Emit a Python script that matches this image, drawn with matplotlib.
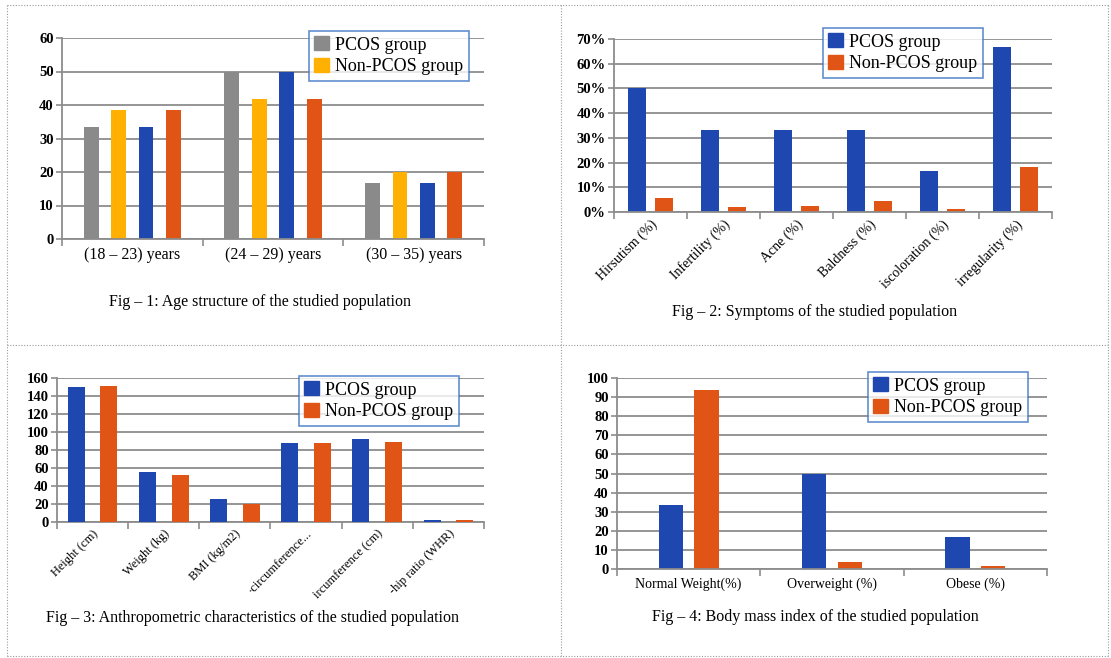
import matplotlib
matplotlib.use("Agg")
import matplotlib.pyplot as plt
import numpy as np
from matplotlib.lines import Line2D
from matplotlib.patches import Patch
from matplotlib.ticker import PercentFormatter, MultipleLocator, FixedLocator

plt.rcParams['font.family'] = ['Liberation Serif', 'DejaVu Serif']

W, H = 1111, 658

# ---------------- data ----------------
age_categories = ["(18 – 23) years", "(24 – 29) years", "(30 – 35) years"]
age_pcos_gray = [33.3, 50.0, 16.7]
age_non_yellow = [38.5, 41.7, 20.0]
age_pcos_blue = [33.3, 50.0, 16.7]
age_non_orange = [38.5, 41.7, 20.0]

symptom_labels = ["Hirsutism (%)", "Infertility (%)", "Acne (%)", "Baldness (%)",
                  "iscoloration (%)", "irregularity (%)"]
symptom_pcos = [0.50, 0.333, 0.333, 0.333, 0.167, 0.667]
symptom_non = [0.058, 0.021, 0.026, 0.045, 0.012, 0.181]

anthro_labels = ["Height (cm)", "Weight (kg)", "BMI (kg/m2)", "·circumference...",
                 "ircumference (cm)", "-hip ratio (WHR)"]
anthro_pcos = [150.0, 55.3, 25.3, 87.5, 92.7, 2.0]
anthro_non = [151.0, 52.5, 19.5, 87.5, 89.0, 2.0]

bmi_labels = ["Normal Weight(%)", "Overweight (%)", "Obese (%)"]
bmi_pcos = [33.3, 50.0, 16.7]
bmi_non = [93.5, 3.8, 1.6]

legend_labels = ["PCOS group", "Non-PCOS group"]
captions = ["Fig – 1: Age structure of the studied population",
            "Fig – 2: Symptoms of the studied population",
            "Fig – 3: Anthropometric characteristics of the studied population",
            "Fig – 4: Body mass index of the studied population"]

GRAY = "#8a8a8a"
YELLOW = "#ffb000"
BLUE = "#1f47b0"
ORANGE = "#e05516"
GRID = "#8c8c8c"
LEGEND_EDGE = "#3a72c4"

fig = plt.figure(figsize=(W / 100, H / 100), dpi=100)


def fx(x):
    return x / W


def fy(y):
    return 1 - y / H


def make_ax(l, t, r, b):
    return fig.add_axes([fx(l), fy(b), (r - l) / W, (b - t) / H])


def style_ax(ax, n, ymax, step, tick_fs):
    ax.set_xlim(-0.5, n - 0.5)
    ax.set_ylim(0, ymax)
    ax.yaxis.set_major_locator(MultipleLocator(step))
    ax.set_axisbelow(True)
    ax.grid(axis='y', color=GRID, linewidth=1.3)
    for s in ['top', 'right']:
        ax.spines[s].set_visible(False)
    for s in ['left', 'bottom']:
        ax.spines[s].set_color(GRID)
        ax.spines[s].set_linewidth(1.3)
    ax.set_xticks(np.arange(n))
    ax.xaxis.set_minor_locator(FixedLocator(np.arange(n + 1) - 0.5))
    ax.tick_params(axis='x', which='major', length=0, pad=6)
    ax.tick_params(axis='x', which='minor', length=5, width=1.2, color=GRID, direction='out')
    ax.tick_params(axis='y', length=4, width=1.2, color=GRID, pad=2, labelsize=tick_fs)


def add_legend(handles, l, t):
    leg = fig.legend(handles=handles, labels=legend_labels, loc='upper left',
                     bbox_to_anchor=(fx(l), fy(t)), bbox_transform=fig.transFigure,
                     frameon=True, fancybox=False, fontsize=13, handlelength=0.8,
                     handleheight=0.8, handletextpad=0.35, borderpad=0.3,
                     labelspacing=0.25, borderaxespad=0)
    fr = leg.get_frame()
    fr.set_edgecolor(LEGEND_EDGE)
    fr.set_linewidth(1.2)
    fr.set_facecolor('white')
    return leg


# ---------------- Panel 1 ----------------
ax1 = make_ax(62, 38, 484, 239)
x = np.arange(len(age_categories))
step = 0.195
bw = 0.105
ax1.bar(x - 1.5 * step, age_pcos_gray, bw, color=GRAY)
ax1.bar(x - 0.5 * step, age_non_yellow, bw, color=YELLOW)
ax1.bar(x + 0.5 * step, age_pcos_blue, bw, color=BLUE)
ax1.bar(x + 1.5 * step, age_non_orange, bw, color=ORANGE)
style_ax(ax1, 3, 60, 10, 10.5)
ax1.set_xticklabels(age_categories, fontsize=11.5)
add_legend([Patch(color=GRAY), Patch(color=YELLOW)], 309, 31)

# ---------------- Panel 2 ----------------
ax2 = make_ax(614, 39, 1052, 212)
x = np.arange(len(symptom_labels))
ax2.bar(x - 0.185, symptom_pcos, 0.24, color=BLUE)
ax2.bar(x + 0.185, symptom_non, 0.24, color=ORANGE)
style_ax(ax2, 6, 0.7, 0.1, 10.5)
ax2.yaxis.set_major_formatter(PercentFormatter(1.0, decimals=0))
ax2.set_xticklabels(symptom_labels, fontsize=10, rotation=45, ha='right',
                    rotation_mode='anchor')
ax2.tick_params(axis='x', which='major', pad=4)
add_legend([Patch(color=BLUE), Patch(color=ORANGE)], 823, 28)

# ---------------- Panel 3 ----------------
ax3 = make_ax(57, 378, 484, 522)
x = np.arange(len(anthro_labels))
ax3.bar(x - 0.23, anthro_pcos, 0.24, color=BLUE, zorder=3)
ax3.bar(x + 0.23, anthro_non, 0.24, color=ORANGE, zorder=3)
style_ax(ax3, 6, 160, 20, 10.5)
ax3.set_xticklabels(anthro_labels, fontsize=9, rotation=45, ha='right',
                    rotation_mode='anchor')
ax3.tick_params(axis='x', which='major', pad=4)
add_legend([Patch(color=BLUE), Patch(color=ORANGE)], 299, 376)

# ---------------- Panel 4 ----------------
ax4 = make_ax(617, 378, 1047, 569)
x = np.arange(len(bmi_labels))
ax4.bar(x - 0.125, bmi_pcos, 0.17, color=BLUE)
ax4.bar(x + 0.125, bmi_non, 0.17, color=ORANGE)
style_ax(ax4, 3, 100, 10, 10.5)
ax4.set_xticklabels(bmi_labels, fontsize=10)
add_legend([Patch(color=BLUE), Patch(color=ORANGE)], 868, 372)

for a in (ax1, ax2, ax3, ax4):
    for lbl in a.get_yticklabels():
        lbl.set_fontweight('bold')

# ---------------- captions ----------------
fig.text(fx(260), fy(302), captions[0], ha='center', va='center', fontsize=11.5)
fig.text(fx(815), fy(312), captions[1], ha='center', va='center', fontsize=11.5)
fig.text(fx(253), fy(618), captions[2], ha='center', va='center', fontsize=11.5)
fig.text(fx(815), fy(617), captions[3], ha='center', va='center', fontsize=11.5)

# ---------------- dotted panel borders ----------------
bkw = dict(color="#9a9a9a", linewidth=0.8, linestyle=(0, (1, 1.5)), transform=fig.transFigure)
fig.add_artist(Line2D([fx(7), fx(1108)], [fy(5), fy(5)], **bkw))
fig.add_artist(Line2D([fx(7), fx(1108)], [fy(345), fy(345)], **bkw))
fig.add_artist(Line2D([fx(7), fx(1108)], [fy(656), fy(656)], **bkw))
fig.add_artist(Line2D([fx(7), fx(7)], [fy(5), fy(656)], **bkw))
fig.add_artist(Line2D([fx(561), fx(561)], [fy(5), fy(656)], **bkw))
fig.add_artist(Line2D([fx(1108), fx(1108)], [fy(5), fy(656)], **bkw))

fig.savefig("out.png", dpi=100, facecolor='white')
